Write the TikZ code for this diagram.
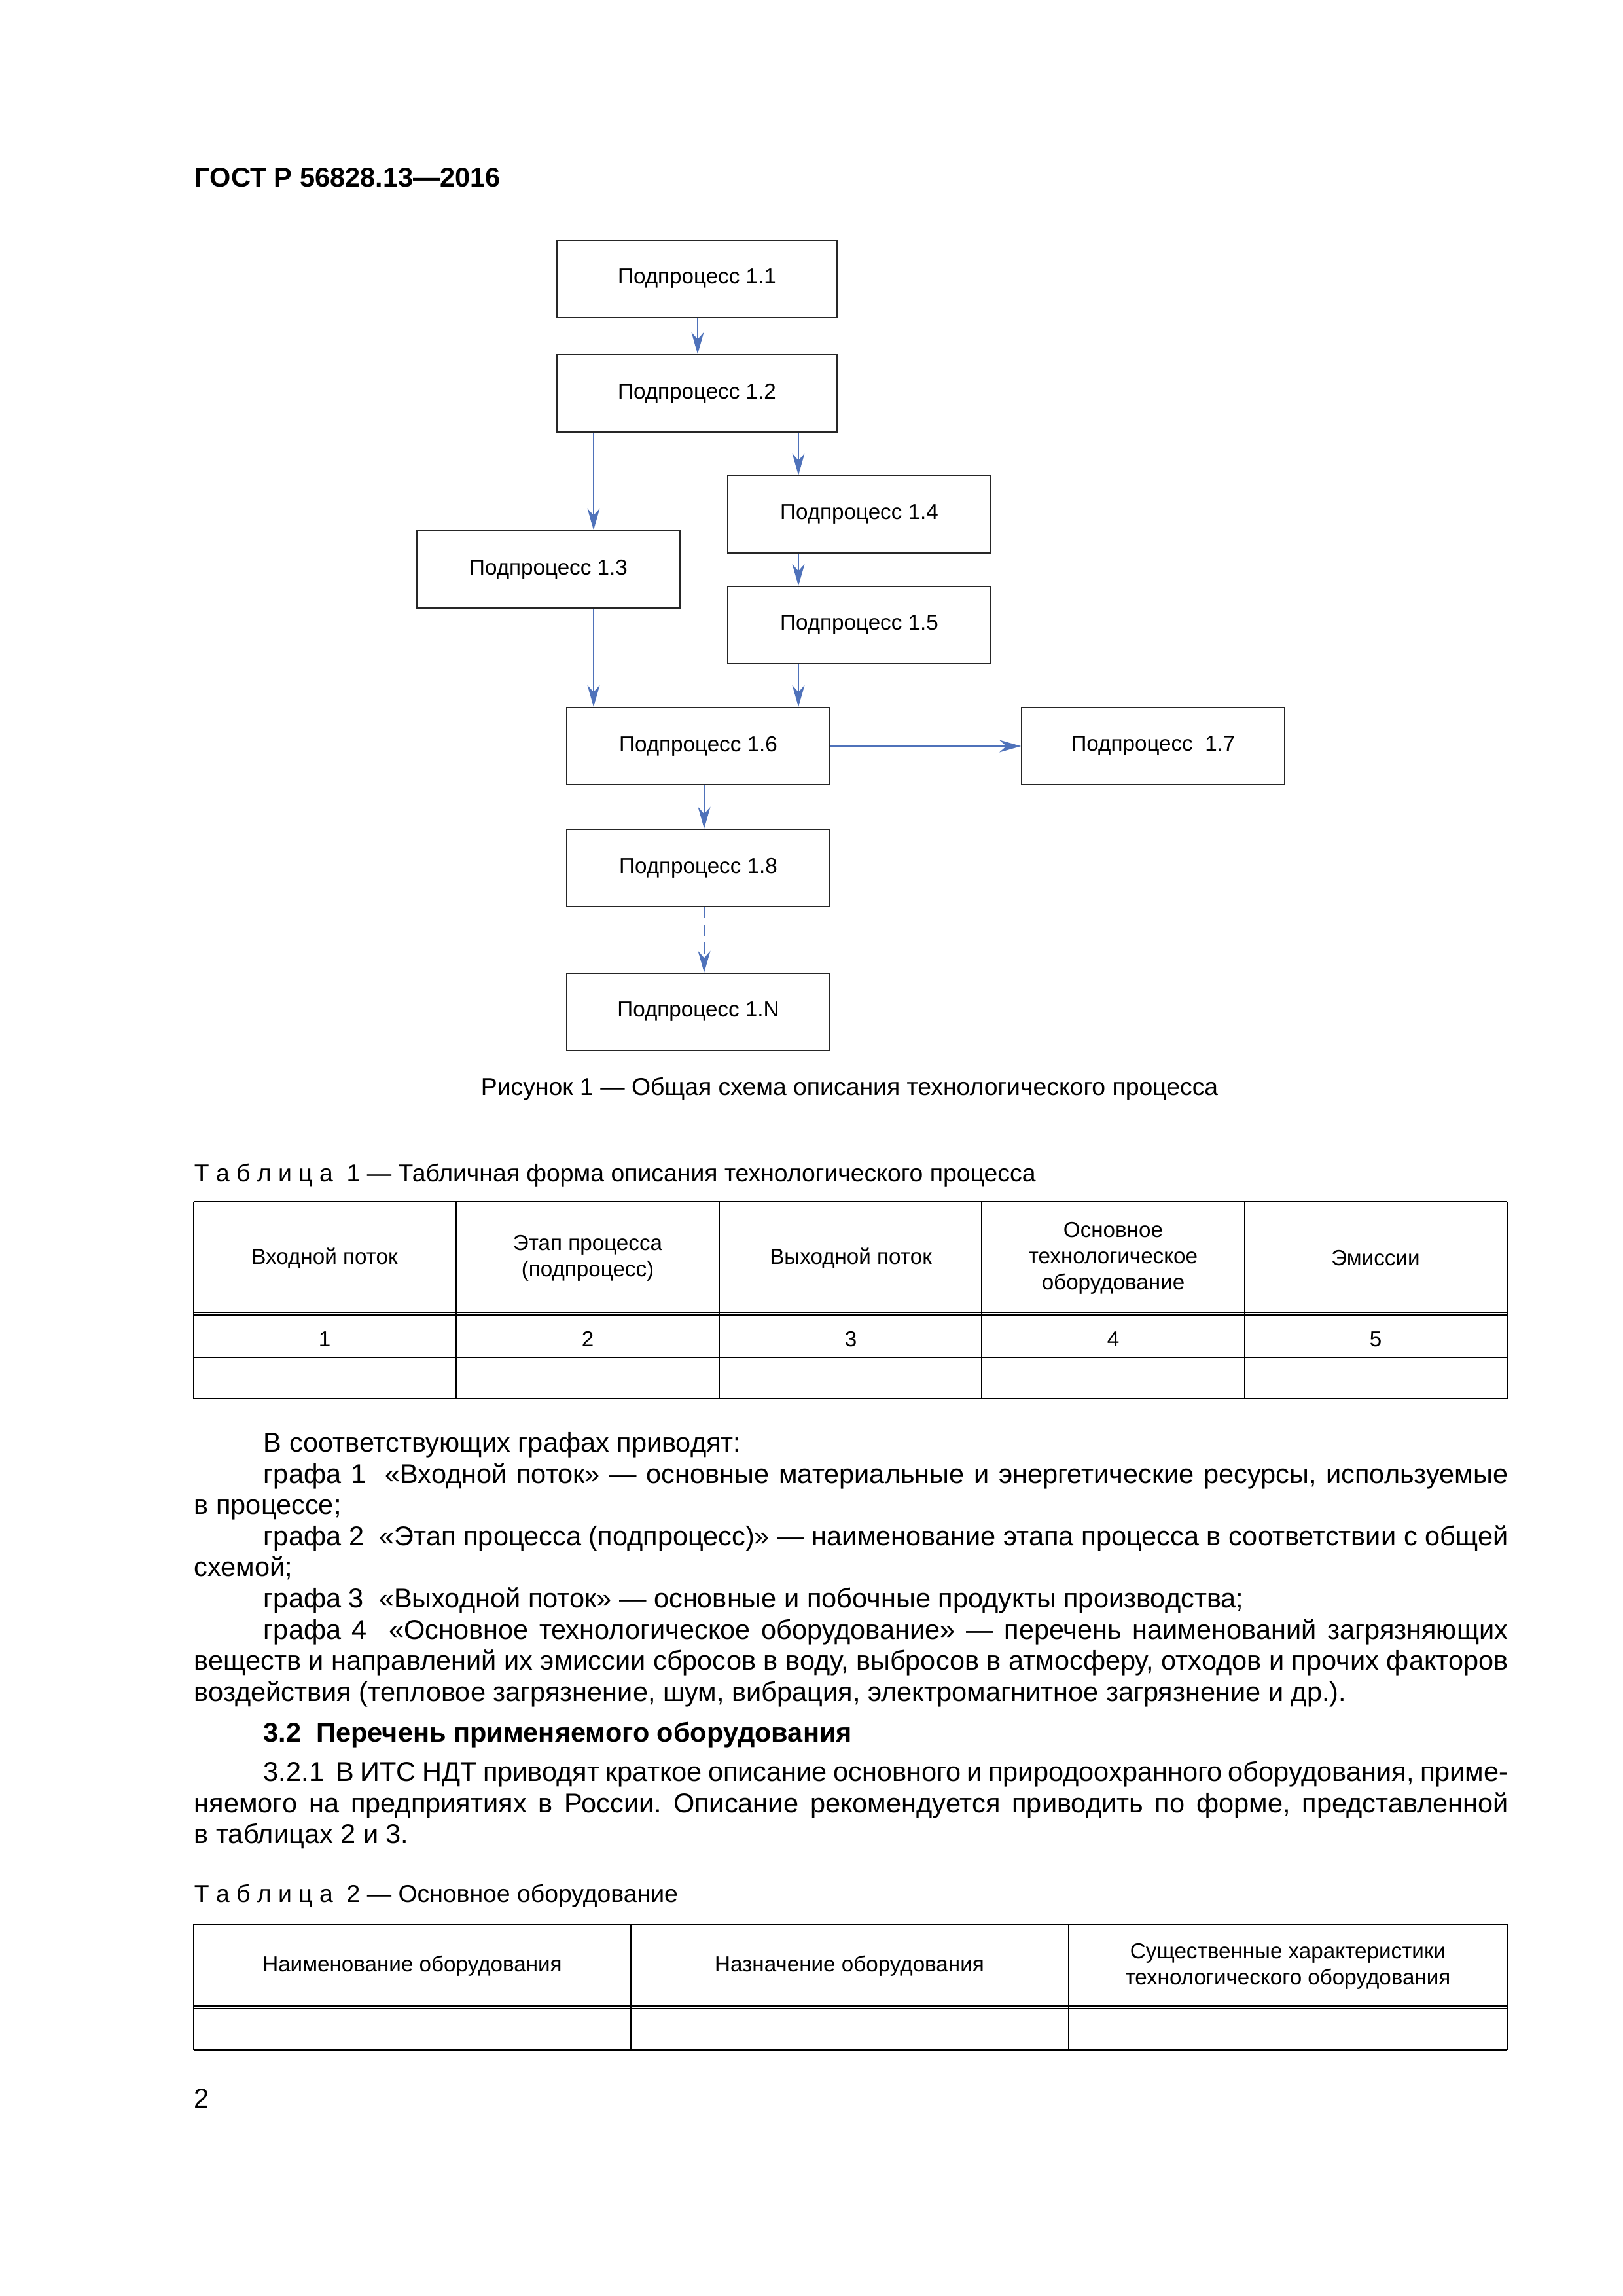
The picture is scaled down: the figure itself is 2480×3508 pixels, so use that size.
\documentclass[tikz,border=0pt]{standalone}
\usepackage{fontspec}
\setmainfont{Liberation Sans}
\usetikzlibrary{arrows.meta}
\definecolor{flowblue}{RGB}{79,114,186}
\newcommand{\jline}[2]{\makebox[#1][s]{#2}}
\frenchspacing

\begin{document}
\begin{tikzpicture}[x=0.084667mm, y=-0.084667mm,
  proc/.style={draw=black!85, line width=0.5pt, minimum width=34mm, minimum height=10mm, inner sep=0pt, font=\fontsize{8}{9.6}\selectfont},
  wide/.style={proc, minimum width=36.2mm},
  flow/.style={draw=flowblue, line width=0.65pt, -{Stealth[length=2.8mm,width=1.6mm,inset=0.9mm]}},
  txt/.style={anchor=base west, inner sep=0pt, font=\fontsize{10}{11.4}\selectfont},
  cell/.style={inner sep=0pt, align=center, font=\fontsize{8}{9.6}\selectfont},
  captext/.style={anchor=west, inner sep=0pt, font=\fontsize{9}{11}\selectfont},
  hrule/.style={line width=0.6pt},
  vrule/.style={line width=0.4pt}]
\useasboundingbox (0,0) rectangle (2480,3508);
\node[txt, font=\bfseries\fontsize{10}{12}\selectfont] (title) at (297,285) {ГОСТ Р 56828.13—2016};
% scheme
\node[wide] (n11) at (1065,426) {Подпроцесс 1.1};
\node[wide] (n12) at (1065,601) {Подпроцесс 1.2};
\node[proc] (n13) at (838,870) {Подпроцесс 1.3};
\node[proc] (n14) at (1313,786) {Подпроцесс 1.4};
\node[proc] (n15) at (1313,955) {Подпроцесс 1.5};
\node[proc] (n16) at (1067,1140) {Подпроцесс 1.6};
\node[proc] (n17) at (1762,1140) {Подпроцесс\ \ 1.7};
\node[proc] (n18) at (1067,1326) {Подпроцесс 1.8};
\node[proc] (n1N) at (1067,1546) {Подпроцесс 1.N};
\coordinate (ax) at (907,0);
\coordinate (bx) at (1220,0);
\coordinate (cx) at (1066,0);
\coordinate (dx) at (1076,0);
\draw[flow] (n11.south -| cx) -- (n12.north -| cx);
\draw[flow] (n12.south -| ax) -- (n13.north -| ax);
\draw[flow] (n12.south -| bx) -- (n14.north -| bx);
\draw[flow] (n14.south -| bx) -- (n15.north -| bx);
\draw[flow] (n13.south -| ax) -- (n16.north -| ax);
\draw[flow] (n15.south -| bx) -- (n16.north -| bx);
\draw[flow] (n16) -- (n17);
\draw[flow] (n16.south -| dx) -- (n18.north -| dx);
\draw[flow, dash pattern=on 4pt off 2.5pt] (n18.south -| dx) -- (n1N.north -| dx);
\node[captext, anchor=center] (fig) at (1298,1664) {Рисунок 1 — Общая схема описания технологического процесса};
% table 1
\node[captext] (tab1) at (296,1796) {Т а б л и ц а\ \ 1 — Табличная форма описания технологического процесса};
\foreach \y in {1836,2005,2009,2074,2137} \draw[hrule] (296,\y) -- (2303,\y);
\foreach \x in {296,697,1099,1500,1902,2303} \draw[vrule] (\x,1836) -- (\x,2137);
\node[cell] (h1) at (496,1922) {Входной поток};
\node[cell] (h2) at (898,1922) {Этап процесса\\(подпроцесс)};
\node[cell] (h3) at (1300,1922) {Выходной поток};
\node[cell] (h4) at (1701,1922) {Основное\\технологическое\\оборудование};
\node[cell] (h5) at (2102,1922) {Эмиссии};
\foreach \i/\x in {1/496,2/898,3/1300,4/1701,5/2102} \node[cell] (k\i) at (\x,2046) {\i};
% text
\node[txt] (l1) at (402,2218) {В соответствующих графах приводят:};
\node[txt] (l2) at (402,2266) {\jline{161mm}{графа 1\ \ «Входной поток» — основные материальные и энергетические ресурсы, используемые}};
\node[txt] (l3) at (296,2313) {в процессе;};
\node[txt] (l4) at (402,2361) {\jline{161mm}{графа 2\ \ «Этап процесса (подпроцесс)» — наименование этапа процесса в соответствии с общей}};
\node[txt] (l5) at (296,2408) {схемой;};
\node[txt] (l6) at (402,2456) {графа 3\ \ «Выходной поток» — основные и побочные продукты производства;};
\node[txt] (l7) at (402,2504) {\jline{161mm}{графа 4\ \ «Основное технологическое оборудование» — перечень наименований загрязняющих}};
\node[txt] (l8) at (296,2551) {\jline{170mm}{веществ и направлений их эмиссии сбросов в воду, выбросов в атмосферу, отходов и прочих факторов}};
\node[txt] (l9) at (296,2599) {воздействия (тепловое загрязнение, шум, вибрация, электромагнитное загрязнение и др.).};
\node[txt, font=\bfseries\fontsize{10}{11.4}\selectfont] (sec) at (402,2661) {3.2\ \ Перечень применяемого оборудования};
\node[txt] (l11) at (402,2721) {\jline{161mm}{3.2.1\ \ В ИТС НДТ приводят краткое описание основного и природоохранного оборудования, приме-}};
\node[txt] (l12) at (296,2769) {\jline{170mm}{няемого на предприятиях в России. Описание рекомендуется приводить по форме, представленной}};
\node[txt] (l13) at (296,2816) {в таблицах 2 и 3.};
% table 2
\node[captext] (tab2) at (296,2897) {Т а б л и ц а\ \ 2 — Основное оборудование};
\foreach \y in {2940,3065,3069,3132} \draw[hrule] (296,\y) -- (2303,\y);
\foreach \x in {296,964,1633,2303} \draw[vrule] (\x,2940) -- (\x,3132);
\node[cell] (g1) at (630,3004) {Наименование оборудования};
\node[cell] (g2) at (1298,3004) {Назначение оборудования};
\node[cell] (g3) at (1968,3004) {Существенные характеристики\\технологического оборудования};
\node[txt] (pg) at (296,3220) {2};
\end{tikzpicture}
\end{document}
